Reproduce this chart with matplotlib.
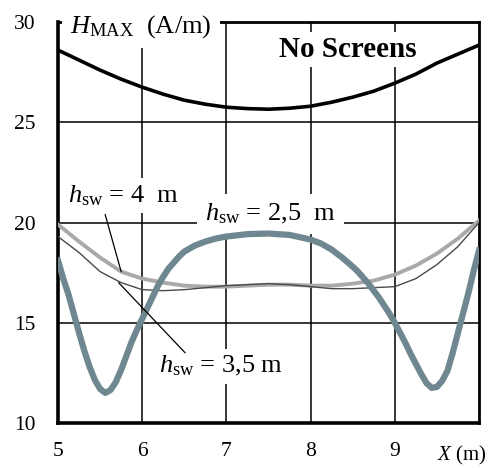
import matplotlib
matplotlib.use("Agg")
import matplotlib.pyplot as plt

plt.rcParams['font.family'] = ['Liberation Serif', 'DejaVu Serif']
plt.rcParams['mathtext.fontset'] = 'custom'
plt.rcParams['mathtext.rm'] = 'Liberation Serif'
plt.rcParams['mathtext.it'] = 'Liberation Serif:italic'
plt.rcParams['mathtext.bf'] = 'Liberation Serif:bold'

# ---- data ----
x_ns = [5, 5.25, 5.5, 5.75, 6, 6.25, 6.5, 6.75, 7, 7.25, 7.5, 7.75, 8, 8.25, 8.5, 8.75, 9, 9.25, 9.5, 9.75, 10]
h_no_screens = [28.6, 28.1, 27.6, 27.15, 26.75, 26.4, 26.1, 25.9, 25.75, 25.68, 25.65, 25.7, 25.8, 26.0, 26.25, 26.55, 26.95, 27.4, 27.95, 28.4, 28.85]

x_q = [5, 5.25, 5.5, 5.75, 6, 6.25, 6.5, 6.75, 7, 7.25, 7.5, 7.75, 8, 8.25, 8.5, 8.75, 9, 9.25, 9.5, 9.75, 10]
h_sw_4 = [19.9, 19.05, 18.25, 17.55, 17.2, 17.0, 16.85, 16.8, 16.8, 16.85, 16.9, 16.9, 16.85, 16.85, 16.95, 17.1, 17.4, 17.85, 18.45, 19.2, 20.1]
h_sw_35 = [19.3, 18.5, 17.55, 17.0, 16.65, 16.6, 16.65, 16.75, 16.85, 16.9, 16.95, 16.9, 16.8, 16.7, 16.7, 16.75, 16.8, 17.2, 17.9, 18.8, 20.0]

x_25 = [5.0, 5.0625, 5.125, 5.1875, 5.25, 5.3125, 5.375, 5.4375, 5.5, 5.5625, 5.625, 5.6875,
        5.75, 5.8125, 5.875, 5.9375, 6.0, 6.0625, 6.125, 6.1875, 6.25, 6.3125, 6.375, 6.4375,
        6.5, 6.625, 6.75, 6.875, 7.0, 7.25, 7.5, 7.75, 8.0, 8.125, 8.25, 8.375, 8.5, 8.5625,
        8.625, 8.6875, 8.75, 8.8125, 8.875, 8.9375, 9.0, 9.0625, 9.125, 9.1875, 9.25, 9.3125,
        9.375, 9.4375, 9.5, 9.5625, 9.625, 9.6875, 9.75, 9.8125, 9.875, 9.9375, 10.0]
h_sw_25 = [18.1, 17.2, 16.4, 15.45, 14.5, 13.6, 12.8, 12.15, 11.7, 11.5, 11.65, 12.05,
           12.65, 13.35, 14.05, 14.65, 15.2, 15.75, 16.3, 16.85, 17.3, 17.7, 18.0, 18.3,
           18.55, 18.85, 19.05, 19.2, 19.3, 19.42, 19.45, 19.38, 19.15, 18.95, 18.65, 18.25, 17.8, 17.55,
           17.25, 16.95, 16.6, 16.25, 15.85, 15.45, 15.0, 14.5, 14.0, 13.45, 12.95, 12.45,
           12.0, 11.75, 11.8, 12.1, 12.6, 13.5, 14.5, 15.5, 16.5, 17.6, 18.6]

x_ticks = [5, 6, 7, 8, 9]
y_ticks = [10, 15, 20, 25, 30]

fig = plt.figure(figsize=(4.88, 4.68), dpi=100)
ax = fig.add_axes([58/488, 1-423/468, (479-58)/488, (423-22)/468])
ax.set_xlim(5, 10)
ax.set_ylim(10, 30)
ax.set_xticks(x_ticks)
ax.set_yticks(y_ticks)
ax.tick_params(length=0, labelsize=15.5, pad=14)
ax.tick_params(axis='y', pad=16)

for xv in x_ticks[1:]:
    ax.axvline(xv, color='black', lw=1.1, zorder=1)
for yv in y_ticks[1:-1]:
    ax.axhline(yv, color='black', lw=1.1, zorder=1)

ax.spines['left'].set_linewidth(2.6)
ax.spines['bottom'].set_linewidth(2.6)
ax.spines['top'].set_linewidth(2.0)
ax.spines['right'].set_linewidth(2.0)

ax.plot(x_ns, h_no_screens, color='black', lw=2.6, zorder=5)
ax.plot(x_q, h_sw_4, color='#a9a9a9', lw=2.8, zorder=5)
ax.plot(x_q, h_sw_35, color='#4a4a4a', lw=1.0, zorder=5)
ax.plot(x_25, h_sw_25, color='#6f8790', lw=4.5, zorder=6, solid_joinstyle='round')

wb = dict(facecolor='white', edgecolor='none')

ax.text(5.14, 29.45, r'$H_{\rm MAX}$  (A/m) ', fontsize=19, ha='left', va='baseline',
        bbox=dict(boxstyle='square,pad=0.28', **wb), zorder=3, clip_on=False)
ax.text(8.44, 28.63, 'No Screens', fontsize=21, fontweight='bold', ha='center', va='center',
        bbox=dict(boxstyle='square,pad=0.15', **wb), zorder=3)
ax.text(5.12, 21.02, r'$h_{\rm sw}$ = 4  m', fontsize=19, ha='left', va='baseline',
        bbox=dict(boxstyle='square,pad=0.2', **wb), zorder=3)
ax.text(6.75, 20.12, r'$h_{\rm sw}$ = 2,5  m', fontsize=19, ha='left', va='baseline',
        bbox=dict(boxstyle='square,pad=0.3', **wb), zorder=3)
ax.text(6.2, 12.5, r'$h_{\rm sw}$ = 3,5 m', fontsize=19, ha='left', va='baseline',
        bbox=dict(boxstyle='square,pad=0.2', **wb), zorder=3)

ax.annotate('', xy=(x_q[3], h_sw_4[3]), xytext=(5.56, 20.4),
            arrowprops=dict(arrowstyle='-', lw=0.9, color='black', shrinkA=0, shrinkB=0), zorder=7)
ax.annotate('', xy=(x_q[3] - 0.03, h_sw_35[3]), xytext=(6.51, 13.5),
            arrowprops=dict(arrowstyle='-', lw=0.9, color='black', shrinkA=0, shrinkB=0), zorder=7)

ax.text((487 - 58) / 421, -0.052, r'$X$ (m)', transform=ax.transAxes, fontsize=15,
        ha='right', va='top')

fig.savefig('out.png', dpi=100)
